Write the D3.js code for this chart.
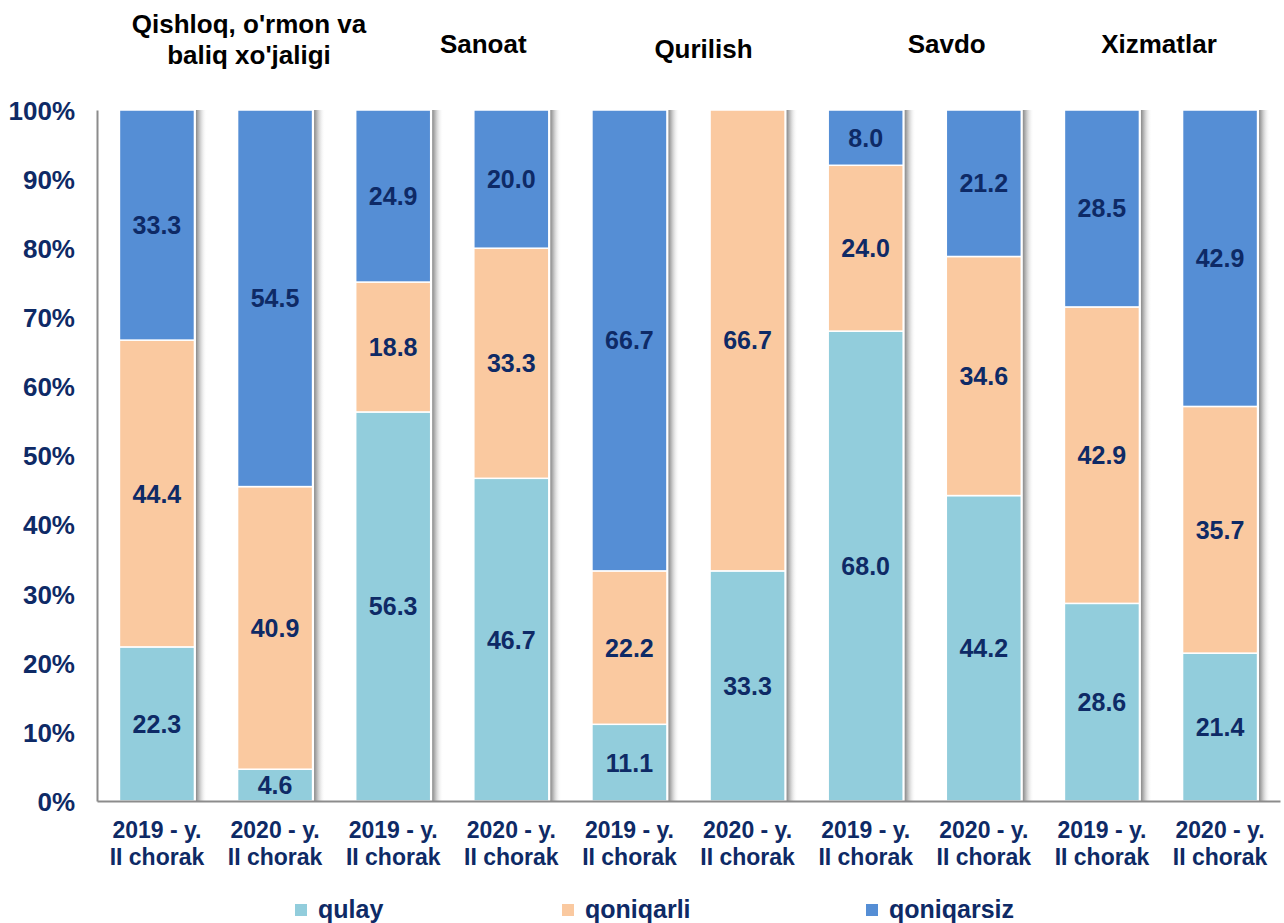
<!DOCTYPE html>
<html><head><meta charset="utf-8">
<script src="https://cdn.jsdelivr.net/npm/d3@7"></script>
<style>body{margin:0;background:#fff;} text{font-family:"Liberation Sans",Arial,sans-serif;font-weight:bold;}</style>
</head><body><svg id="c" width="1284" height="923"></svg>
<script>
const bars = ["b0","b1","b2","b3","b4","b5","b6","b7","b8","b9"];
const barLabels = ["2019 - y.|II chorak","2020 - y.|II chorak","2019 - y.|II chorak","2020 - y.|II chorak","2019 - y.|II chorak","2020 - y.|II chorak","2019 - y.|II chorak","2020 - y.|II chorak","2019 - y.|II chorak","2020 - y.|II chorak"];
const sectors = ["Qishloq, o'rmon va|baliq xo'jaligi","Sanoat","Qurilish","Savdo","Xizmatlar"];
const seriesNames = ["qulay","qoniqarli","qoniqarsiz"];
const qulay = [22.3,4.6,56.3,46.7,11.1,33.3,68.0,44.2,28.6,21.4];
const qoniqarli = [44.4,40.9,18.8,33.3,22.2,66.7,24.0,34.6,42.9,35.7];
const qoniqarsiz = [33.3,54.5,24.9,20.0,66.7,0,8.0,21.2,28.5,42.9];
const yTicks = [0,10,20,30,40,50,60,70,80,90,100];
const colors = ["#92CDDC","#FAC9A0","#558ED5"];
const navy = "#0E2A66";

const svg = d3.select("#c");
const x0 = 97, x1 = 1280, yTop = 110, yBot = 801;
const x = d3.scaleBand().domain(bars).range([x0, x1]).paddingInner(0.365).paddingOuter(0.19);
const y = d3.scaleLinear().domain([0,100]).range([yBot, yTop]);

const defs = svg.append("defs");
const g = defs.append("linearGradient").attr("id","sh").attr("x1","0").attr("x2","1").attr("y1","0").attr("y2","0");
g.append("stop").attr("offset","0").attr("stop-color","#8a8a8a");
g.append("stop").attr("offset","0.35").attr("stop-color","#c8c8c8");
g.append("stop").attr("offset","1").attr("stop-color","#ffffff").attr("stop-opacity","0");

const data = bars.map((b,i)=>({bar:b, qulay:qulay[i], qoniqarli:qoniqarli[i], qoniqarsiz:qoniqarsiz[i]}));
const stack = d3.stack().keys(seriesNames)(data);

// shadows
svg.append("g").selectAll("rect").data(data).join("rect")
  .attr("x", d=>x(d.bar)+x.bandwidth()+1.5).attr("y", y(100))
  .attr("width", 11).attr("height", y(0)-y(100)).attr("fill","url(#sh)");

// bars
const layers = svg.append("g").selectAll("g").data(stack).join("g").attr("fill",(d,i)=>colors[i]);
layers.selectAll("rect").data(d=>d.filter(s=>s[1]-s[0]>0)).join("rect")
  .attr("x", d=>x(d.data.bar)).attr("width", x.bandwidth())
  .attr("y", d=>y(d[1])).attr("height", d=>y(d[0])-y(d[1]))
  .attr("stroke","#fff").attr("stroke-width",1.5);

// value labels
const lg = svg.append("g");
stack.forEach(s=>{
  s.forEach(d=>{
    const v = d[1]-d[0];
    if (v<=0) return;
    lg.append("text").attr("x", x(d.data.bar)+x.bandwidth()/2).attr("y",(y(d[0])+y(d[1]))/2+9)
      .attr("text-anchor","middle").attr("font-size",25).attr("fill",navy).text(v.toFixed(1));
  });
});

// axes
const ya = svg.append("g").attr("transform",`translate(${x0},0)`)
  .call(d3.axisLeft(y).tickValues(yTicks).tickSize(0).tickPadding(22).tickFormat(d=>d+"%"));
ya.select(".domain").attr("stroke","#8c8c8c").attr("stroke-width",2);
ya.selectAll("text").attr("font-size",26).attr("fill",navy).attr("font-family","Liberation Sans, Arial").attr("font-weight","bold").attr("dy","0.36em");

const xa = svg.append("g").attr("transform",`translate(0,${yBot})`)
  .call(d3.axisBottom(x).tickSize(0).tickFormat(""));
xa.select(".domain").attr("stroke","#8c8c8c").attr("stroke-width",2);
xa.selectAll(".tick").each(function(d,i){
  const t = d3.select(this).append("text").attr("text-anchor","middle").attr("font-size",23).attr("fill",navy)
    .attr("font-family","Liberation Sans, Arial").attr("font-weight","bold");
  barLabels[i].split("|").forEach((ln,k)=>t.append("tspan").attr("x",0).attr("y",37+k*27).text(ln));
});

// sector titles
const sectorY = [[33,64],[53],[58],[53],[53]];
const sectorDx = [33,31,15,22,-2];
sectors.forEach((s,i)=>{
  const cx = (x(bars[2*i]) + x(bars[2*i+1]) + x.bandwidth())/2 + sectorDx[i];
  const t = svg.append("text").attr("text-anchor","middle").attr("font-size",26).attr("fill","#000");
  s.split("|").forEach((ln,k)=>t.append("tspan").attr("x",cx).attr("y",sectorY[i][k]).text(ln));
});

// legend
const legX = [295,562,866];
seriesNames.forEach((n,i)=>{
  svg.append("rect").attr("x",legX[i]).attr("y",904).attr("width",12).attr("height",12).attr("fill",colors[i]);
  svg.append("text").attr("x",legX[i]+23).attr("y",918).attr("font-size",25).attr("fill",navy).text(n);
});
</script></body></html>
